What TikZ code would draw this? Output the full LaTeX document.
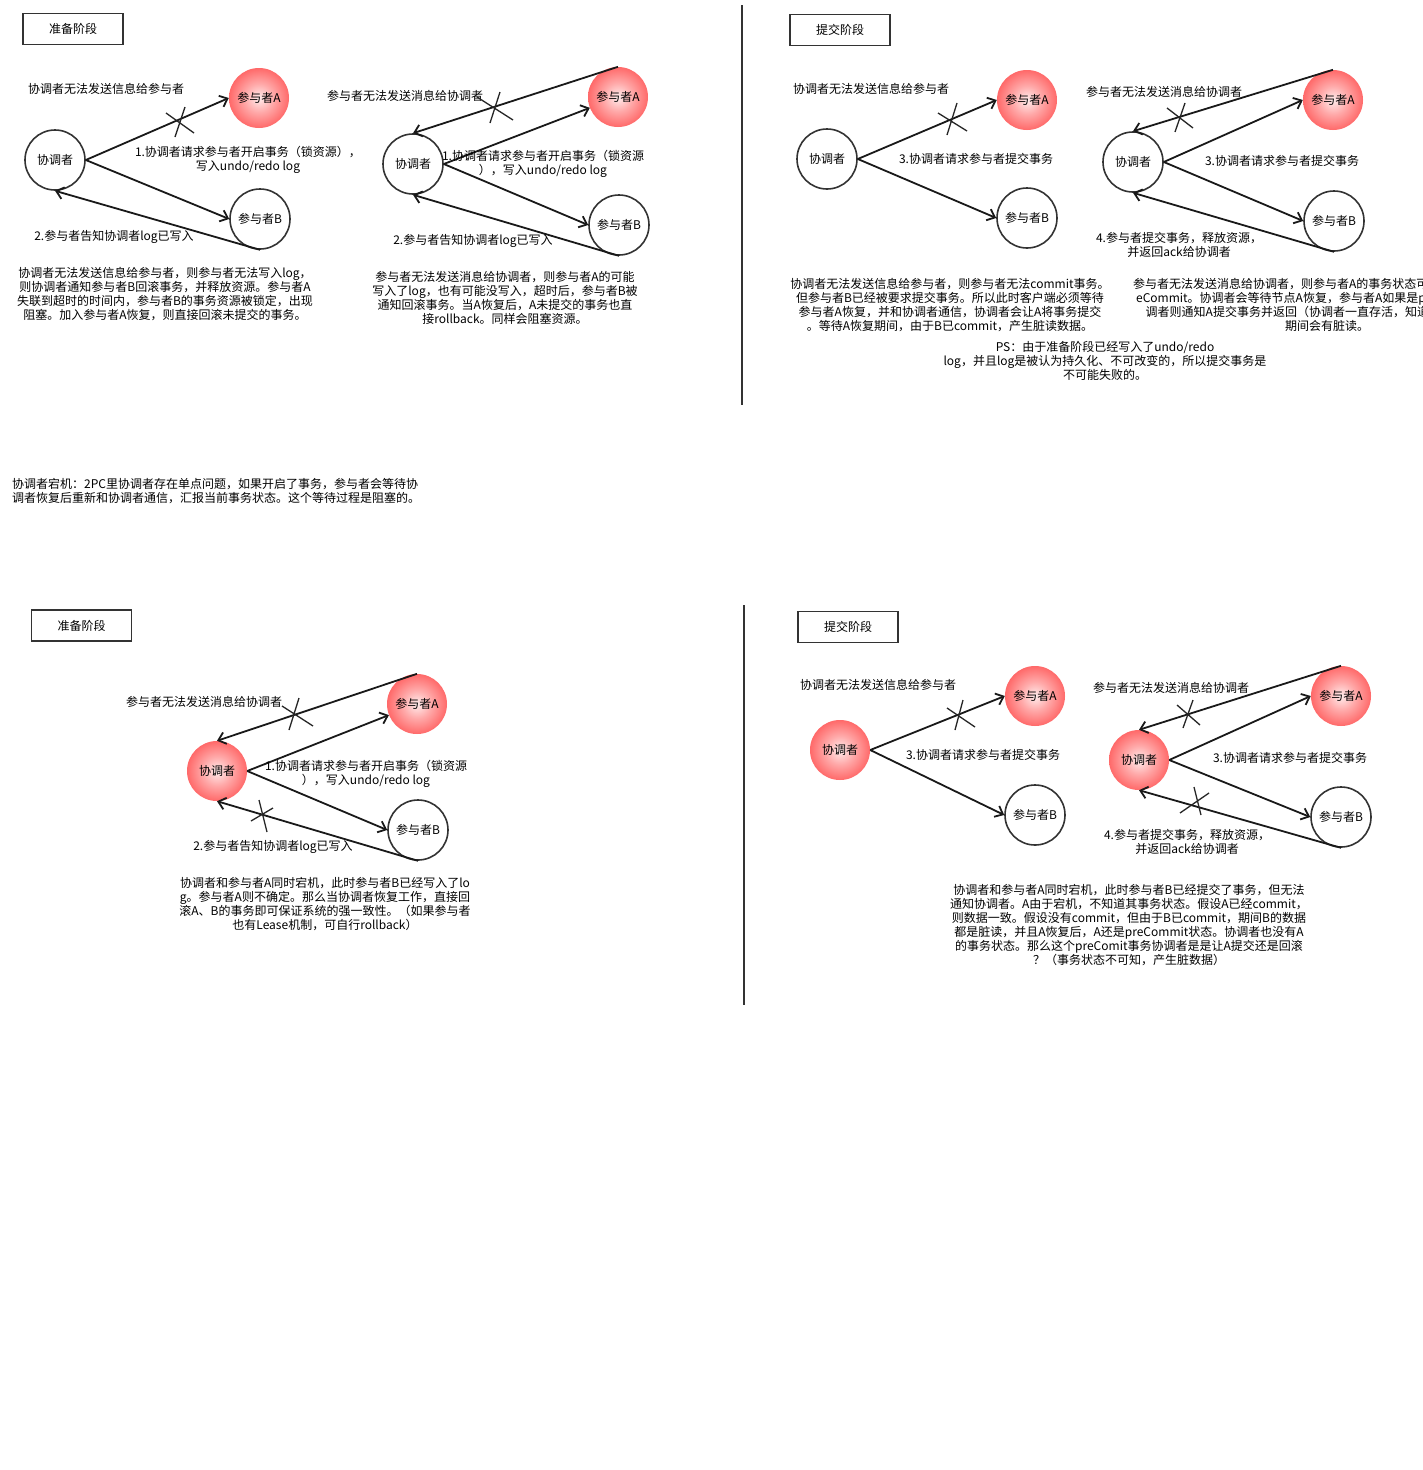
\documentclass[tikz,border=0pt]{standalone}
\usepackage{fontspec}
\setmainfont{Noto Sans CJK SC}
\usetikzlibrary{arrows.meta}
\definecolor{ballred}{HTML}{FF2A2A}
\definecolor{ballcore}{HTML}{FFEDED}
\definecolor{inkgray}{HTML}{333333}
\pgfdeclareradialshading{redball}{\pgfpoint{0bp}{0bp}}{color(0bp)=(ballcore); color(12bp)=(ballred!35!ballcore); color(38bp)=(ballred); color(50bp)=(ballred)}
\tikzset{
  % 阶段标题框
  stagebox/.style={draw=inkgray, line width=1.6pt, minimum width=100pt,
    minimum height=31pt, inner sep=0pt},
  % 正常的节点
  alive/.style={circle, draw=inkgray, line width=1.6pt, minimum size=60pt,
    inner sep=0pt, fill=white},
  % 宕机的节点
  crashed/.style={circle, draw=none, minimum size=60pt, inner sep=0pt,
    shading=redball},
  % 消息箭头
  msg/.style={-{Straight Barb[length=7pt,width=12pt]}, line width=1.8pt,
    black!90},
  % 消息丢失的叉号
  cut/.style={line width=1.3pt, black!85},
  % 文字
  lbl/.style={inner sep=0pt, align=center},
  note/.style={inner sep=0pt, anchor=west},
  para/.style={inner sep=0pt, align=center},
  divider/.style={line width=1.6pt, inkgray},
}

\begin{document}
\begin{tikzpicture}[x=1pt, y=-1pt, font=\fontsize{12}{14}\selectfont]
  \fill[white] (0,0) rectangle (1423,1470);
  \useasboundingbox (0,0) rectangle (1423,1470);

  % 准备阶段：协调者无法发送信息
  \node[stagebox] (st1) at (73,29) {准备阶段};
  \node[note] (n1) at (28,89) {协调者无法发送信息给参与者};
  \node[alive] (co1) at (55,160) {协调者};
  \node[crashed] (a1) at (259,98) {参与者A};
  \node[alive] (b1) at (260,219) {参与者B};
  \draw[msg] (co1.east) -- (a1.west);
  \draw[msg] (co1.east) -- (b1.west);
  \draw[msg] (b1.south) -- (co1.south);
  \draw[cut] (175,137) -- (185,107) (166,113) -- (194,133);
  \node[lbl] (l1a) at (248,160) {1.协调者请求参与者开启事务（锁资源），\\写入undo/redo log};
  \node[lbl] (l1b) at (114,237) {2.参与者告知协调者log已写入};
  \node[para] (p1) at (165,294) {协调者无法发送信息给参与者，则参与者无法写入log，\\
    则协调者通知参与者B回滚事务，并释放资源。参与者A\\
    失联到超时的时间内，参与者B的事务资源被锁定，出现\\
    阻塞。加入参与者A恢复，则直接回滚未提交的事务。};

  % 准备阶段：参与者无法发送消息
  \node[note] (n2) at (327,96) {参与者无法发送消息给协调者};
  \node[alive] (co2) at (413,164) {协调者};
  \node[crashed] (a2) at (618,97) {参与者A};
  \node[alive] (b2) at (619,225) {参与者B};
  \draw[msg] (a2.north) -- (co2.north);
  \draw[msg] (co2.east) -- (a2);
  \draw[msg] (co2.east) -- (b2.west);
  \draw[msg] (b2.south) -- (co2.south);
  \draw[cut] (500,92) -- (490,123) (477,97) -- (513,120);
  \node[lbl] (l2a) at (543,164) {1.协调者请求参与者开启事务（锁资源\\），写入undo/redo log};
  \node[lbl] (l2b) at (473,241) {2.参与者告知协调者log已写入};
  \node[para] (p2) at (505,298) {参与者无法发送消息给协调者，则参与者A的可能\\
    写入了log，也有可能没写入，超时后，参与者B被\\
    通知回滚事务。当A恢复后，A未提交的事务也直\\
    接rollback。同样会阻塞资源。};

  \draw[divider] (742,5) -- (742,405);

  % 提交阶段：协调者无法发送信息
  \node[stagebox] (st3) at (840,30) {提交阶段};
  \node[note] (n3) at (793,89) {协调者无法发送信息给参与者};
  \node[alive] (co3) at (827,159) {协调者};
  \node[crashed] (a3) at (1027,100) {参与者A};
  \node[alive] (b3) at (1027,218) {参与者B};
  \draw[msg] (co3.east) -- (a3.west);
  \draw[msg] (co3.east) -- (b3.west);
  \draw[cut] (957,103) -- (947,135) (938,113) -- (967,131);
  \node[lbl] (l3a) at (976,159) {3.协调者请求参与者提交事务};
  \node[para] (p3) at (950,305) {协调者无法发送信息给参与者，则参与者无法commit事务。\\
    但参与者B已经被要求提交事务。所以此时客户端必须等待\\
    参与者A恢复，并和协调者通信，协调者会让A将事务提交\\
    。等待A恢复期间，由于B已commit，产生脏读数据。};
  \node[para] (ps) at (1105,361) {PS：由于准备阶段已经写入了undo/redo\\
    log，并且log是被认为持久化、不可改变的，所以提交事务是\\
    不可能失败的。};

  % 提交阶段：参与者无法发送消息
  \node[note] (n4) at (1086,92) {参与者无法发送消息给协调者};
  \node[alive] (co4) at (1133,162) {协调者};
  \node[crashed] (a4) at (1333,100) {参与者A};
  \node[alive] (b4) at (1334,221) {参与者B};
  \draw[msg] (a4.north) -- (co4.north);
  \draw[msg] (co4.east) -- (a4.west);
  \draw[msg] (co4.east) -- (b4.west);
  \draw[msg] (b4.south) -- (co4.south);
  \draw[cut] (1185,103) -- (1175,132) (1167,108) -- (1193,128);
  \node[lbl] (l4a) at (1282,161) {3.协调者请求参与者提交事务};
  \node[lbl] (l4b) at (1179,245) {4.参与者提交事务，释放资源，\\并返回ack给协调者};
  \node[para, text width=388pt] (p4) at (1327,305) {参与者无法发送消息给协调者，则参与者A的事务状态可能是commit或者是pr\\
    eCommit。协调者会等待节点A恢复，参与者A如果是preCommit，则协\\
    调者则通知A提交事务并返回（协调者一直存活，知道A恢复），这段\\
    期间会有脏读。};

  \node[note, align=left] (crash) at (12,491) {协调者宕机：2PC里协调者存在单点问题，如果开启了事务，参与者会等待协\\
    调者恢复后重新和协调者通信，汇报当前事务状态。这个等待过程是阻塞的。};

  % 准备阶段：协调者和参与者A同时宕机
  \node[stagebox] (st5) at (81.5,625.5) {准备阶段};
  \node[note] (n5) at (126,702) {参与者无法发送消息给协调者};
  \node[crashed] (co5) at (217,771) {协调者};
  \node[crashed] (a5) at (417,704) {参与者A};
  \node[alive] (b5) at (418,830) {参与者B};
  \draw[msg] (a5.north) -- (co5.north);
  \draw[msg] (co5.east) -- (a5);
  \draw[msg] (co5.east) -- (b5.west);
  \draw[msg] (b5.south) -- (co5.south);
  \draw[cut] (299,698) -- (289,730) (282,706) -- (313,726);
  \draw[cut] (259,800) -- (267,832) (251,821) -- (273,808);
  \node[lbl] (l5a) at (366,774) {1.协调者请求参与者开启事务（锁资源\\），写入undo/redo log};
  \node[lbl] (l5b) at (273,847) {2.参与者告知协调者log已写入};
  \node[para] (p5) at (325,904) {协调者和参与者A同时宕机，此时参与者B已经写入了lo\\
    g。参与者A则不确定。那么当协调者恢复工作，直接回\\
    滚A、B的事务即可保证系统的强一致性。（如果参与者\\
    也有Lease机制，可自行rollback）};

  \draw[divider] (744,605) -- (744,1005);

  % 提交阶段：协调者和参与者A同时宕机
  \node[stagebox] (st6) at (848,627) {提交阶段};
  \node[note] (n6) at (800,685) {协调者无法发送信息给参与者};
  \node[crashed] (co6) at (840,750) {协调者};
  \node[crashed] (a6) at (1035,696) {参与者A};
  \node[alive] (b6) at (1035,815) {参与者B};
  \draw[msg] (co6.east) -- (a6.west);
  \draw[msg] (co6.east) -- (b6.west);
  \draw[cut] (963,700) -- (955,730) (947,708) -- (975,727);
  \node[lbl] (l6a) at (983,755) {3.协调者请求参与者提交事务};

  \node[note] (n7) at (1093,688) {参与者无法发送消息给协调者};
  \node[crashed] (co7) at (1139,760) {协调者};
  \node[crashed] (a7) at (1341,696) {参与者A};
  \node[alive] (b7) at (1341,817) {参与者B};
  \draw[msg] (a7.north) -- (co7.north);
  \draw[msg] (co7.east) -- (a7.west);
  \draw[msg] (co7.east) -- (b7.west);
  \draw[msg] (b7.south) -- (co7.south);
  \draw[cut] (1193,700) -- (1183,728) (1177,705) -- (1200,725);
  \draw[cut] (1194,787) -- (1201,815) (1180,813) -- (1209,793);
  \node[lbl] (l7a) at (1290,758) {3.协调者请求参与者提交事务};
  \node[lbl] (l7b) at (1187,842) {4.参与者提交事务，释放资源，\\并返回ack给协调者};
  \node[para] (p7) at (1129,925) {协调者和参与者A同时宕机，此时参与者B已经提交了事务，但无法\\
    通知协调者。A由于宕机，不知道其事务状态。假设A已经commit，\\
    则数据一致。假设没有commit，但由于B已commit，期间B的数据\\
    都是脏读，并且A恢复后，A还是preCommit状态。协调者也没有A\\
    的事务状态。那么这个preComit事务协调者是是让A提交还是回滚\\
    ？（事务状态不可知，产生脏数据）};
\end{tikzpicture}
\end{document}
